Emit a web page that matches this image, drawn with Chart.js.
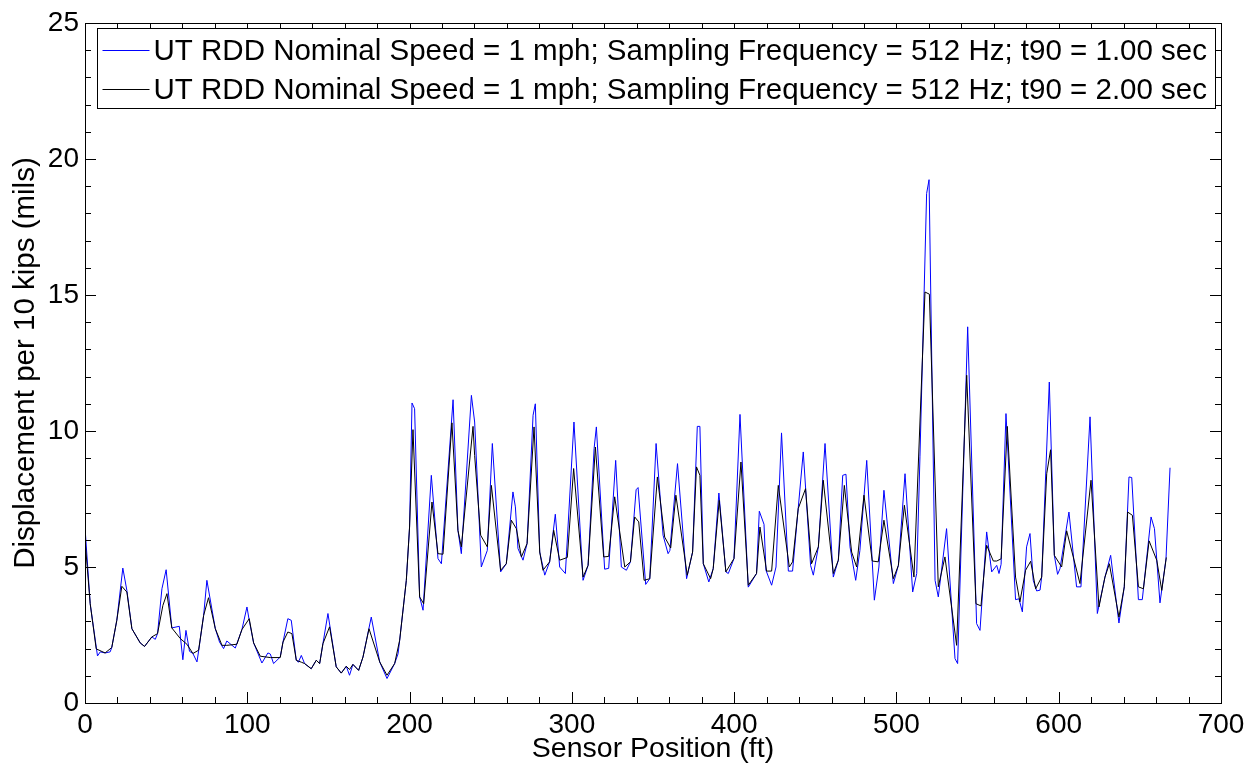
<!DOCTYPE html>
<html>
<head>
<meta charset="utf-8">
<script src="https://cdn.jsdelivr.net/npm/chart.js@4.4.0/dist/chart.umd.min.js"></script>
<style>
  html, body { margin: 0; padding: 0; background: #fff; }
</style>
</head>
<body>
<canvas id="chart" width="1256" height="769"></canvas>
<script>
const seriesLabels = [
  'UT RDD Nominal Speed = 1 mph; Sampling Frequency = 512 Hz; t90 = 1.00 sec',
  'UT RDD Nominal Speed = 1 mph; Sampling Frequency = 512 Hz; t90 = 2.00 sec'
];
const xTickLabels = [0, 100, 200, 300, 400, 500, 600, 700];
const yTickLabels = [0, 5, 10, 15, 20, 25];

// t90 = 1.00 sec (blue)
const posT1 = [0, 3.2, 7.7, 9.4, 12.4, 15.5, 16.5, 19.6, 23.3, 25.8, 28.9, 34, 36.7, 41.2, 43.3, 44.7, 47.4, 50, 53.5, 58.1,
  60.3, 62.2, 64.4, 66.5, 69, 70, 73.1, 75.1, 80.3, 82.9, 85.4, 87.4, 92.6, 96.7, 99.8, 101.2, 103.9, 109, 112.7, 114.2,
  116.2, 120.3, 122, 125, 127.1, 130.2, 131.5, 133.3, 135.3, 139.4, 142.5, 144.6, 146.6, 149.7, 154.8, 157.9, 161, 163, 165.1, 168.6,
  171.3, 176.4, 181.6, 186.1, 190.8, 192.9, 193.9, 198, 200, 201.5, 203.1, 206.2, 208.3, 213.4, 217.5, 219.6, 226.8, 229.8, 231.9, 238.1,
  240.1, 244.2, 247.9, 251, 256.1, 259.6, 263.7, 265.2, 266.8, 269.9, 272.4, 276.1, 277.5, 280.2, 283.3, 286.3, 289.8, 292.5, 296, 301.3,
  306.9, 310, 313.7, 315.1, 320.2, 322.7, 327, 330.5, 333.6, 336.1, 339.6, 340.8, 345.5, 348, 351.9, 356.2, 359.3, 360.4, 365.1, 370.7,
  374.4, 377.3, 378.9, 381, 384.4, 387.1, 390.6, 394.9, 396.4, 399.9, 403.6, 408.7, 413.8, 415.5, 418.4, 419.6, 423.1, 425.8, 429.2, 433.4,
  436, 442.6, 447.1, 448.8, 451.9, 456, 461.1, 464.2, 466.9, 468.9, 471.4, 474.9, 477.5, 481.7, 486.4, 489.2, 492.3, 498.1, 501.2, 505.3,
  510, 512.5, 514.5, 518.6, 520.1, 523.8, 525.8, 530.9, 536.1, 537.7, 543.9, 549.4, 551.5, 555.6, 558.7, 561.8, 563.2, 564.5, 567.5, 573.4,
  575.5, 577.6, 580.2, 582.3, 584.3, 586.4, 588.5, 589.5, 594.2, 597.3, 599.3, 600.8, 606.3, 611, 613.7, 619.3, 623.8, 628.5, 632, 637.1,
  640.4, 643.3, 645, 649.1, 651.5, 656.9, 659, 662.4, 666.1, 668.6];
const valT1 = [6.46, 3.65, 1.73, 1.88, 1.84, 1.88, 2.04, 3.04, 4.96, 4.14, 2.73, 2.21, 2.08, 2.43, 2.34, 2.55, 4.2, 4.9, 2.76, 2.82,
  1.59, 2.67, 1.9, 1.82, 1.51, 1.91, 3.22, 4.51, 2.73, 2.24, 2.0, 2.28, 2.02, 2.7, 3.53, 3.04, 2.21, 1.47, 1.84, 1.8,
  1.45, 1.69, 2.24, 3.1, 3.04, 1.57, 1.5, 1.75, 1.45, 1.26, 1.57, 1.45, 2.18, 3.29, 1.33, 1.1, 1.35, 1.02, 1.42, 1.2,
  1.69, 3.16, 1.51, 0.9, 1.45, 1.81, 2.31, 4.51, 6.47, 11.03, 10.82, 3.9, 3.41, 8.37, 5.31, 5.12, 11.15, 6.35, 5.49, 11.31,
  10.33, 5.0, 5.61, 9.54, 4.82, 5.12, 7.76, 7.21, 5.68, 5.25, 5.86, 10.58, 11.0, 5.55, 4.7, 5.19, 6.94, 5.0, 4.76, 10.33,
  4.51, 5.06, 9.35, 10.15, 4.92, 4.95, 8.92, 5.0, 4.88, 5.19, 7.84, 7.92, 4.36, 4.57, 9.54, 6.17, 5.49, 5.61, 8.8, 4.57,
  5.55, 10.17, 10.17, 5.12, 4.45, 4.94, 7.72, 4.82, 4.76, 5.31, 10.61, 4.26, 4.76, 7.05, 6.57, 4.88, 4.33, 5.0, 9.93, 4.85,
  4.85, 9.23, 5.06, 4.7, 5.74, 9.54, 4.63, 5.25, 8.37, 8.41, 5.74, 4.51, 5.61, 8.92, 3.78, 5.0, 7.82, 4.39, 5.06, 8.43,
  4.08, 4.76, 9.05, 18.73, 19.24, 4.51, 3.9, 6.41, 1.63, 1.45, 13.83, 2.92, 2.67, 6.29, 4.82, 5.06, 4.76, 5.1, 10.64, 3.8,
  3.83, 3.35, 5.74, 6.23, 4.51, 4.12, 4.15, 4.63, 11.8, 5.43, 4.73, 4.94, 7.02, 4.27, 4.27, 10.52, 3.29, 4.63, 5.43, 2.94,
  4.27, 8.31, 8.29, 3.8, 3.8, 6.84, 6.41, 3.68, 5.3, 8.65];

// t90 = 2.00 sec (black)
const posT2 = [0, 3.2, 6.9, 12.4, 16.5, 19.6, 22.7, 25.8, 28.9, 34, 36.7, 41.2, 44.7, 48, 50.5, 53.5, 58.7, 62.8, 66.5, 70,
  73.1, 76.1, 80.3, 84.4, 87.4, 93.6, 96.7, 101.2, 103.9, 108, 114.2, 120.3, 122, 125, 127.5, 130.2, 133.3, 135.3, 139.4, 142.5,
  144.6, 146.6, 150.7, 154.8, 157.9, 161, 163, 165.1, 168.6, 171.3, 175, 181.6, 186.1, 190.8, 193.9, 198, 200, 202.1, 206.2, 208.7,
  213.8, 217.5, 220.6, 226.1, 229.8, 231.9, 239.1, 240.1, 243.8, 247.9, 250.4, 256.1, 259.6, 262.7, 265.8, 268.9, 272.4, 276.7, 280.2, 282.2,
  286.3, 288.8, 292.5, 297.2, 301.1, 306.9, 310, 314.5, 319.6, 322.7, 326.4, 332.6, 336.1, 338.7, 341.2, 344.5, 348, 352.7, 357.2, 360.9,
  364.1, 371.1, 374.4, 376.8, 378.9, 381, 385.5, 387.1, 390.8, 394.9, 399.9, 404.2, 408.7, 413.8, 415.9, 420, 423.1, 427.2, 434, 436,
  439.5, 444, 447.7, 451.9, 454.9, 461.1, 464.2, 467.9, 472.4, 475.5, 480, 485.1, 488.8, 492.3, 498.1, 501.2, 504.9, 510.8, 517.6, 520.3,
  525.8, 529.9, 537.1, 543.3, 549, 552.1, 555.6, 559.7, 561.8, 564.5, 568.3, 573.4, 576.1, 579.6, 582.7, 585.8, 589.5, 592.6, 595, 597.3,
  601.8, 604.9, 613.1, 619.9, 624.8, 628.5, 631.2, 637.1, 640.4, 642.5, 645.4, 649.1, 652.2, 655.7, 660.4, 663.5, 666.3];
const valT2 = [6.0, 3.65, 1.99, 1.84, 2.04, 3.04, 4.29, 4.08, 2.73, 2.21, 2.08, 2.43, 2.55, 3.59, 4.02, 2.76, 2.37, 2.16, 1.82, 1.94,
  3.22, 3.87, 2.73, 2.12, 2.12, 2.16, 2.7, 3.1, 2.21, 1.72, 1.67, 1.67, 2.24, 2.61, 2.55, 1.57, 1.5, 1.45, 1.26, 1.57,
  1.45, 2.18, 2.8, 1.33, 1.1, 1.35, 1.23, 1.42, 1.2, 1.69, 2.73, 1.51, 1.02, 1.45, 2.31, 4.51, 6.47, 10.05, 3.9, 3.65,
  7.39, 5.49, 5.47, 10.3, 6.35, 5.74, 10.17, 9.1, 6.17, 5.74, 8.0, 4.88, 5.12, 6.72, 6.41, 5.37, 5.86, 10.15, 5.55, 4.88,
  5.19, 6.35, 5.25, 5.35, 8.62, 4.63, 5.06, 9.41, 5.37, 5.39, 7.58, 5.0, 5.19, 6.84, 6.66, 4.51, 4.57, 8.31, 6.1, 5.7,
  7.64, 4.7, 5.55, 8.68, 8.37, 5.12, 4.57, 4.94, 7.45, 4.82, 5.31, 8.86, 4.33, 4.76, 6.47, 4.85, 4.85, 8.0, 5.0, 5.19,
  7.15, 7.88, 5.12, 5.74, 8.19, 4.76, 5.25, 8.0, 5.55, 5.0, 7.64, 5.22, 5.19, 6.72, 4.57, 5.06, 7.27, 4.63, 15.11, 15.03,
  4.27, 5.37, 2.12, 12.05, 3.65, 3.57, 5.8, 5.22, 5.22, 5.3, 10.17, 4.63, 3.72, 4.88, 5.21, 4.2, 4.63, 8.43, 9.31, 5.43,
  5.0, 6.33, 4.39, 8.19, 3.53, 4.63, 5.12, 3.16, 4.27, 7.02, 6.9, 4.27, 4.2, 5.96, 5.25, 4.14, 5.35];

const seriesColors = ['#0000ff', '#000000'];
const FONT = '"Liberation Sans", Arial, Helvetica, sans-serif';

function toPoints(xs, ys) {
  return xs.map((x, i) => ({x: x, y: ys[i]}));
}

// MATLAB-style box with inward ticks on all four sides
const boxTicks = {
  id: 'boxTicks',
  afterDatasetsDraw(chart) {
    const {ctx, chartArea: a, scales: {x, y}} = chart;
    ctx.save();
    ctx.strokeStyle = '#000';
    ctx.lineWidth = 1;
    ctx.beginPath();
    for (let v = 0; v <= 700; v += 20) {
      const px = Math.round(x.getPixelForValue(v)) + 0.5;
      const len = v % 100 === 0 ? 11 : 6;
      ctx.moveTo(px, a.bottom); ctx.lineTo(px, a.bottom - len);
      ctx.moveTo(px, a.top); ctx.lineTo(px, a.top + len);
    }
    for (let v = 0; v <= 25; v += 1) {
      const py = Math.round(y.getPixelForValue(v)) + 0.5;
      const len = v % 5 === 0 ? 11 : 6;
      ctx.moveTo(a.left, py); ctx.lineTo(a.left + len, py);
      ctx.moveTo(a.right, py); ctx.lineTo(a.right - len, py);
    }
    ctx.stroke();
    ctx.strokeRect(Math.round(a.left) + 0.5, Math.round(a.top) + 0.5,
      Math.round(a.right - a.left), Math.round(a.bottom - a.top));
    ctx.restore();
  }
};

// legend drawn inside the plot area, top left
const insideLegend = {
  id: 'insideLegend',
  afterDraw(chart) {
    const {ctx, chartArea: a} = chart;
    const sets = chart.data.datasets;
    ctx.save();
    ctx.font = '29.5px ' + FONT;
    const textW = Math.max(...sets.map(d => ctx.measureText(d.label).width));
    const left = Math.round(a.left + 12) + 0.5;
    const top = Math.round(a.top + 5) + 0.5;
    const rowH = 39;
    const w = Math.round(56 + textW + 8);
    const h = rowH * sets.length + 2;
    ctx.fillStyle = '#fff';
    ctx.fillRect(left, top, w, h);
    ctx.strokeStyle = '#000';
    ctx.lineWidth = 1;
    ctx.strokeRect(left, top, w, h);
    ctx.textBaseline = 'middle';
    sets.forEach((d, i) => {
      const cy = Math.round(top + 2 + rowH * i + rowH / 2) + 0.5;
      ctx.strokeStyle = d.borderColor;
      ctx.beginPath();
      ctx.moveTo(left + 5, cy); ctx.lineTo(left + 52, cy);
      ctx.stroke();
      ctx.fillStyle = '#000';
      ctx.fillText(d.label, left + 56, cy + 1);
    });
    ctx.restore();
  }
};

new Chart(document.getElementById('chart'), {
  type: 'line',
  data: {
    datasets: [
      {label: seriesLabels[0], data: toPoints(posT1, valT1), borderColor: seriesColors[0], order: 2},
      {label: seriesLabels[1], data: toPoints(posT2, valT2), borderColor: seriesColors[1], order: 1}
    ]
  },
  options: {
    responsive: false,
    animation: false,
    devicePixelRatio: 1,
    layout: {padding: {top: 23, right: 35, left: 0, bottom: 0}},
    elements: {
      line: {borderWidth: 1, tension: 0},
      point: {radius: 0, hoverRadius: 0}
    },
    plugins: {
      legend: {display: false},
      tooltip: {enabled: false}
    },
    scales: {
      x: {
        type: 'linear',
        min: 0, max: 700,
        afterFit: s => { s.height = 66; },
        afterBuildTicks: s => { s.ticks = xTickLabels.map(v => ({value: v})); },
        grid: {display: false, drawTicks: false},
        border: {display: false},
        ticks: {color: '#000', padding: 5, maxRotation: 0, font: {family: FONT, size: 28}},
        title: {display: true, text: 'Sensor Position (ft)', color: '#000',
          padding: {top: 0, bottom: 3}, font: {family: FONT, size: 28.5}}
      },
      y: {
        type: 'linear',
        min: 0, max: 25,
        afterFit: s => { s.width = 85; },
        afterBuildTicks: s => { s.ticks = yTickLabels.map(v => ({value: v})); },
        grid: {display: false, drawTicks: false},
        border: {display: false},
        ticks: {color: '#000', padding: 6, font: {family: FONT, size: 28}},
        title: {display: true, text: 'Displacement per 10 kips (mils)', color: '#000',
          padding: {top: 8, bottom: 0}, font: {family: FONT, size: 29.5}}
      }
    }
  },
  plugins: [boxTicks, insideLegend]
});
</script>
</body>
</html>
